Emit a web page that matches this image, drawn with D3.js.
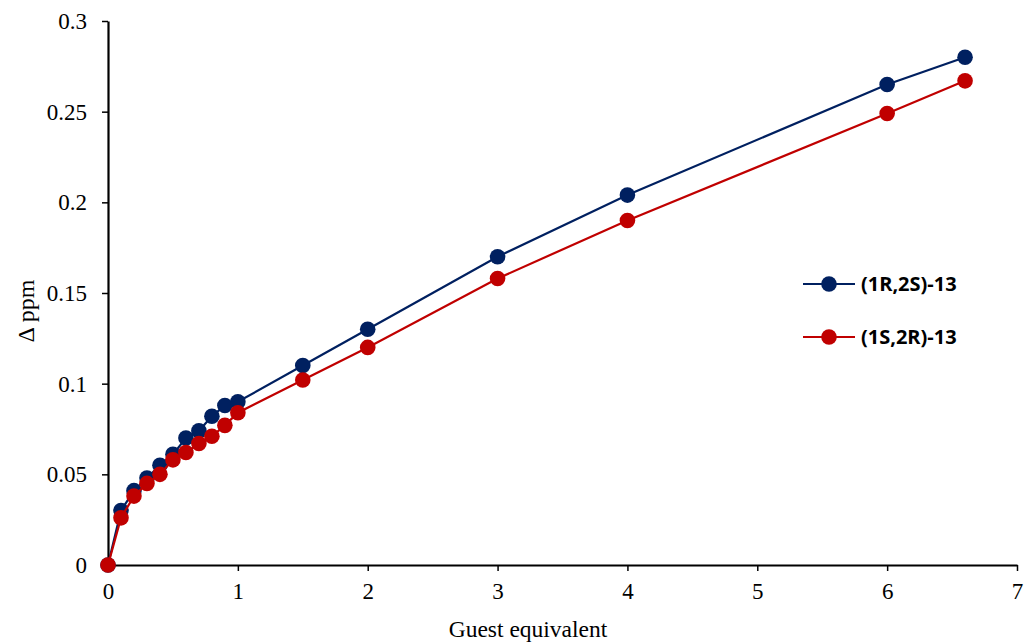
<!DOCTYPE html>
<html>
<head>
<meta charset="utf-8">
<script src="https://cdnjs.cloudflare.com/ajax/libs/d3/7.8.5/d3.min.js"></script>
<style>
  body { margin: 0; background: #fff; }
</style>
</head>
<body>
<div id="chart"></div>
<script>
// Data
var guestEq = [0, 0.1, 0.2, 0.3, 0.4, 0.5, 0.6, 0.7, 0.8, 0.9, 1, 1.5, 2, 3, 4, 6, 6.6];
var series1R2S = [0, 0.030, 0.041, 0.048, 0.055, 0.061, 0.070, 0.074, 0.082, 0.088, 0.090, 0.110, 0.130, 0.170, 0.204, 0.265, 0.280];
var series1S2R = [0, 0.026, 0.038, 0.045, 0.050, 0.058, 0.062, 0.067, 0.071, 0.077, 0.084, 0.102, 0.120, 0.158, 0.190, 0.249, 0.267];
var seriesNames = ["(1R,2S)-13", "(1S,2R)-13"];
var seriesColors = ["#002060", "#C00000"];
var xTicks = [0, 1, 2, 3, 4, 5, 6, 7];
var yTicks = [0, 0.05, 0.1, 0.15, 0.2, 0.25, 0.3];

var width = 1024, height = 643;
var margin = { top: 21, right: 7, bottom: 78, left: 108 };
var serif = "Liberation Serif, Times New Roman, serif";

var svg = d3.select("#chart").append("svg")
    .attr("width", width)
    .attr("height", height);

var x = d3.scaleLinear().domain([0, 7]).range([margin.left, width - margin.right]);
var y = d3.scaleLinear().domain([0, 0.3]).range([height - margin.bottom, margin.top]);

// Axes
var xAxis = svg.append("g")
    .attr("transform", "translate(0," + y(0) + ")")
    .call(d3.axisBottom(x).tickValues(xTicks).tickSize(6).tickSizeOuter(0).tickPadding(12).tickFormat(d3.format("d")));
var yAxis = svg.append("g")
    .attr("transform", "translate(" + x(0) + ",0)")
    .call(d3.axisLeft(y).tickValues(yTicks).tickSize(6).tickSizeOuter(0).tickPadding(15).tickFormat(function(d) { return d; }));

[xAxis, yAxis].forEach(function(a) {
    a.attr("font-family", serif).attr("font-size", 23);
    a.select(".domain").attr("stroke", "#000").attr("stroke-width", 2.2);
    a.selectAll(".tick line").attr("stroke", "#000").attr("stroke-width", 1.5);
    a.selectAll(".tick text").attr("fill", "#000");
});

// Axis titles
svg.append("text")
    .attr("x", 528)
    .attr("y", 637)
    .attr("text-anchor", "middle")
    .attr("font-family", serif)
    .attr("font-size", 23.5)
    .text("Guest equivalent");

svg.append("text")
    .attr("transform", "translate(34,311) rotate(-90)")
    .attr("text-anchor", "middle")
    .attr("font-family", serif)
    .attr("font-size", 24)
    .text("\u0394 ppm");

// Series
var allSeries = [series1R2S, series1S2R];
var line = d3.line()
    .x(function(d) { return x(d[0]); })
    .y(function(d) { return y(d[1]); });

allSeries.forEach(function(vals, i) {
    var pts = guestEq.map(function(g, j) { return [g, vals[j]]; });
    svg.append("path")
        .datum(pts)
        .attr("fill", "none")
        .attr("stroke", seriesColors[i])
        .attr("stroke-width", 2.2)
        .attr("d", line);
    svg.selectAll(".pt" + i)
        .data(pts)
        .enter()
        .append("circle")
        .attr("class", "pt" + i)
        .attr("cx", function(d) { return x(d[0]); })
        .attr("cy", function(d) { return y(d[1]); })
        .attr("r", 7.8)
        .attr("fill", seriesColors[i]);
});

// Legend
var legend = svg.append("g").attr("transform", "translate(803,284)");
seriesNames.forEach(function(name, i) {
    var g = legend.append("g").attr("transform", "translate(0," + (i * 53) + ")");
    g.append("line").attr("x1", 0).attr("x2", 52).attr("y1", 0).attr("y2", 0)
        .attr("stroke", seriesColors[i]).attr("stroke-width", 2.2);
    g.append("circle").attr("cx", 26).attr("cy", 0).attr("r", 7.8).attr("fill", seriesColors[i]);
    g.append("text").attr("x", 58).attr("y", 7)
        .attr("font-family", "Open Sans, Noto Sans, sans-serif")
        .attr("font-weight", "bold")
        .attr("font-size", 20)
        .text(name);
});
</script>
</body>
</html>
